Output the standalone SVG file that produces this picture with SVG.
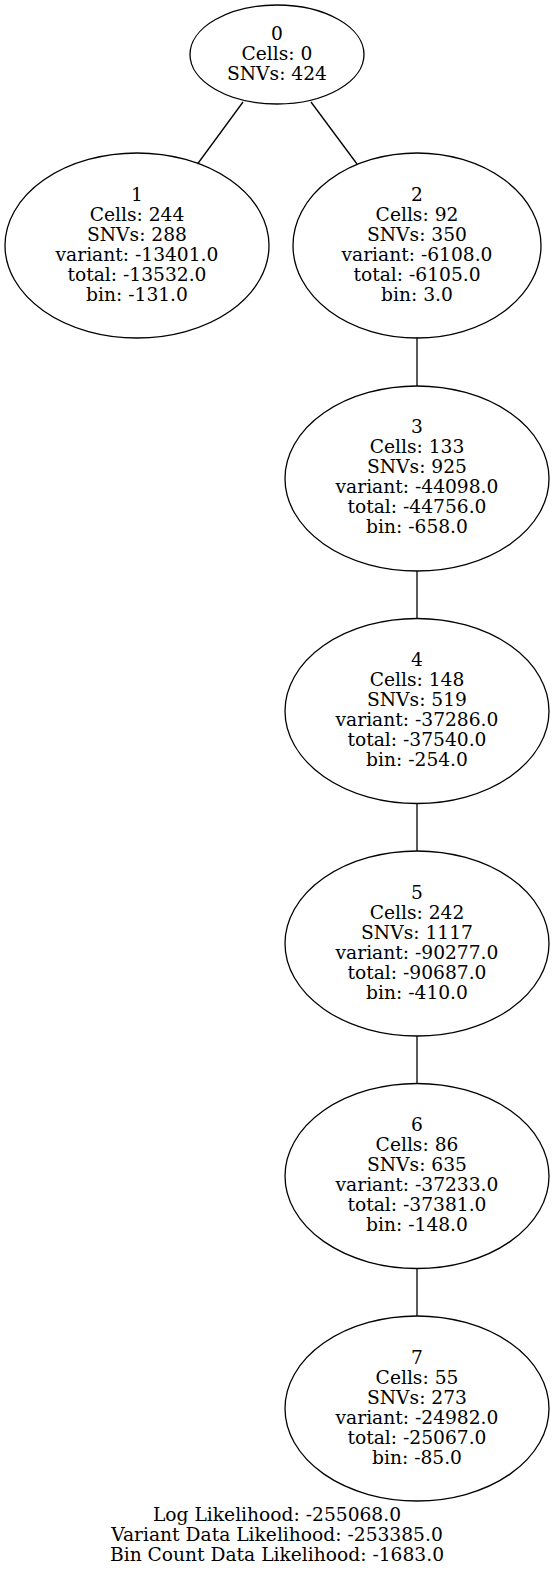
<svg xmlns="http://www.w3.org/2000/svg" width="555" height="1573" viewBox="0 0 555 1573">
<style>
.n{fill:none;stroke:#000;stroke-width:1.3}
.e{stroke:#000;stroke-width:1.3;fill:none}
text{font-family:"DejaVu Serif","Liberation Serif",serif;font-size:18.67px;fill:#000;text-anchor:middle}
</style>
<rect width="555" height="1573" fill="#fff"/>
<g id="edges">
<line class="e" x1="243" y1="102" x2="197.5" y2="164"/>
<line class="e" x1="311" y1="102" x2="357" y2="164"/>
<line class="e" x1="417" y1="337.5" x2="417" y2="386"/>
<line class="e" x1="417" y1="571" x2="417" y2="618.5"/>
<line class="e" x1="417" y1="803.5" x2="417" y2="851"/>
<line class="e" x1="417" y1="1036" x2="417" y2="1083.5"/>
<line class="e" x1="417" y1="1268.5" x2="417" y2="1316"/>
</g>
<g id="node0">
<ellipse class="n" cx="277" cy="54.5" rx="87" ry="49.5"/>
<text x="277" y="40">0</text>
<text x="277" y="60">Cells: 0</text>
<text x="277" y="80">SNVs: 424</text>
</g>
<g id="node1">
<ellipse class="n" cx="137" cy="245.5" rx="132" ry="92.5"/>
<text x="137" y="201">1</text>
<text x="137" y="221">Cells: 244</text>
<text x="137" y="241">SNVs: 288</text>
<text x="137" y="261">variant: -13401.0</text>
<text x="137" y="281">total: -13532.0</text>
<text x="137" y="301">bin: -131.0</text>
</g>
<g id="node2">
<ellipse class="n" cx="417" cy="245.5" rx="124" ry="92.5"/>
<text x="417" y="201">2</text>
<text x="417" y="221">Cells: 92</text>
<text x="417" y="241">SNVs: 350</text>
<text x="417" y="261">variant: -6108.0</text>
<text x="417" y="281">total: -6105.0</text>
<text x="417" y="301">bin: 3.0</text>
</g>
<g id="node3">
<ellipse class="n" cx="417" cy="478.5" rx="132" ry="92.5"/>
<text x="417" y="433">3</text>
<text x="417" y="453">Cells: 133</text>
<text x="417" y="473">SNVs: 925</text>
<text x="417" y="493">variant: -44098.0</text>
<text x="417" y="513">total: -44756.0</text>
<text x="417" y="533">bin: -658.0</text>
</g>
<g id="node4">
<ellipse class="n" cx="417" cy="711" rx="132" ry="92.5"/>
<text x="417" y="666">4</text>
<text x="417" y="686">Cells: 148</text>
<text x="417" y="706">SNVs: 519</text>
<text x="417" y="726">variant: -37286.0</text>
<text x="417" y="746">total: -37540.0</text>
<text x="417" y="766">bin: -254.0</text>
</g>
<g id="node5">
<ellipse class="n" cx="417" cy="943.5" rx="132" ry="92.5"/>
<text x="417" y="898.5">5</text>
<text x="417" y="918.5">Cells: 242</text>
<text x="417" y="938.5">SNVs: 1117</text>
<text x="417" y="958.5">variant: -90277.0</text>
<text x="417" y="978.5">total: -90687.0</text>
<text x="417" y="998.5">bin: -410.0</text>
</g>
<g id="node6">
<ellipse class="n" cx="417" cy="1176" rx="132" ry="92.5"/>
<text x="417" y="1131">6</text>
<text x="417" y="1151">Cells: 86</text>
<text x="417" y="1171">SNVs: 635</text>
<text x="417" y="1191">variant: -37233.0</text>
<text x="417" y="1211">total: -37381.0</text>
<text x="417" y="1231">bin: -148.0</text>
</g>
<g id="node7">
<ellipse class="n" cx="417" cy="1408.5" rx="132" ry="92.5"/>
<text x="417" y="1364">7</text>
<text x="417" y="1384">Cells: 55</text>
<text x="417" y="1404">SNVs: 273</text>
<text x="417" y="1424">variant: -24982.0</text>
<text x="417" y="1444">total: -25067.0</text>
<text x="417" y="1464">bin: -85.0</text>
</g>
<g id="label">
<text x="277" y="1521">Log Likelihood: -255068.0</text>
<text x="277" y="1541">Variant Data Likelihood: -253385.0</text>
<text x="277" y="1561">Bin Count Data Likelihood: -1683.0</text>
</g>
</svg>
